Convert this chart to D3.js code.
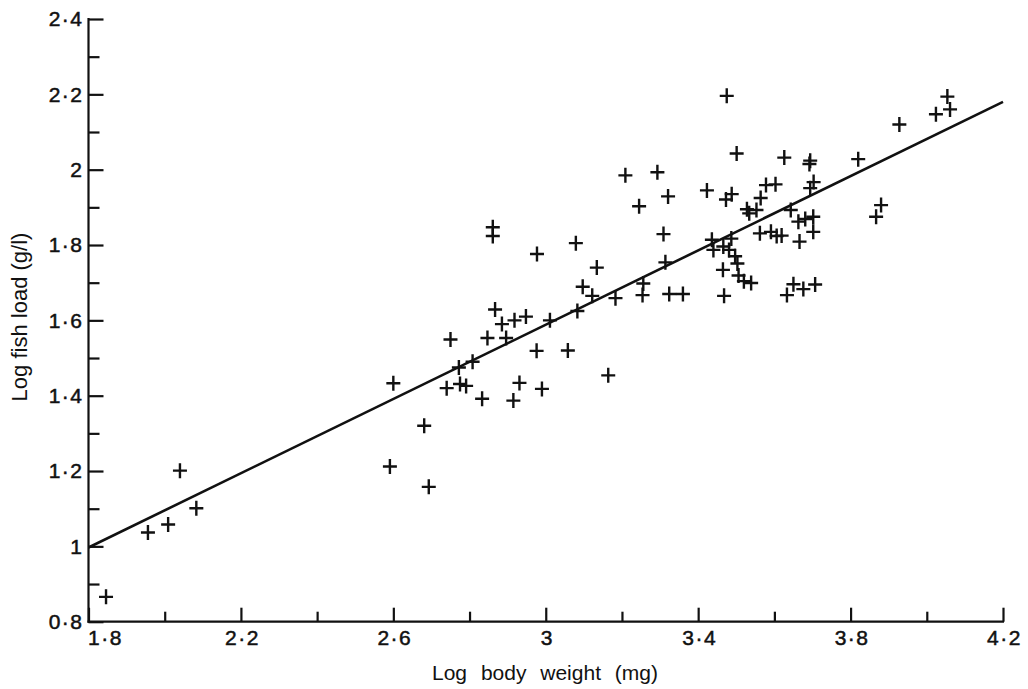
<!DOCTYPE html>
<html>
<head>
<meta charset="utf-8">
<script src="https://cdn.jsdelivr.net/npm/d3@7/dist/d3.min.js"></script>
<style>
  html, body { margin: 0; padding: 0; background: #fff; }
  svg { display: block; }
  text { font-family: "Liberation Sans", Arial, sans-serif; fill: #111; }
</style>
</head>
<body>
<svg id="chart" width="1028" height="689"></svg>
<script>
// ---- data ----
const bodyWeight = [
  1.846, 1.956, 2.009, 2.040, 2.083,
  2.591, 2.600, 2.681, 2.693, 2.740, 2.750, 2.772, 2.775, 2.791, 2.808,
  2.833, 2.847, 2.861, 2.861, 2.867, 2.885, 2.896, 2.918, 2.948, 2.915,
  2.931, 2.977, 2.976, 2.990, 3.011, 3.058, 3.083, 3.079, 3.134, 3.097,
  3.122, 3.164, 3.183, 3.209, 3.245, 3.254, 3.256, 3.293, 3.309, 3.314,
  3.321, 3.324, 3.360,
  3.475, 3.501, 3.626, 3.694, 3.692, 3.820, 3.928, 4.024, 4.054, 4.061,
  3.423, 3.473, 3.488, 3.578, 3.603, 3.564, 3.528, 3.534, 3.553, 3.643,
  3.694, 3.703, 3.663, 3.681, 3.702, 3.702, 3.666, 3.562, 3.591, 3.606,
  3.619, 3.436, 3.440, 3.466, 3.487, 3.481, 3.497, 3.503, 3.465, 3.506,
  3.520, 3.539, 3.468, 3.633, 3.650, 3.676, 3.707, 3.867, 3.880
];
const fishLoad = [
  0.866, 1.037, 1.058, 1.201, 1.101,
  1.212, 1.433, 1.320, 1.158, 1.420, 1.549, 1.475, 1.431, 1.426, 1.490,
  1.392, 1.553, 1.847, 1.824, 1.629, 1.590, 1.553, 1.600, 1.610, 1.387,
  1.434, 1.776, 1.519, 1.418, 1.600, 1.520, 1.625, 1.805, 1.740, 1.689,
  1.665, 1.454, 1.659, 1.985, 1.903, 1.667, 1.698, 1.993, 1.829, 1.754,
  1.929, 1.670, 1.670,
  2.196, 2.043, 2.032, 2.024, 2.015, 2.028, 2.120, 2.147, 2.194, 2.160,
  1.945, 1.921, 1.935, 1.959, 1.961, 1.925, 1.895, 1.884, 1.893, 1.893,
  1.951, 1.967, 1.862, 1.869, 1.875, 1.835, 1.809, 1.831, 1.835, 1.824,
  1.825, 1.814, 1.787, 1.796, 1.817, 1.787, 1.770, 1.751, 1.734, 1.719,
  1.704, 1.699, 1.665, 1.667, 1.696, 1.683, 1.695, 1.875, 1.906
];
const fitX = [1.8, 4.2];
const fitY = [0.997, 2.18];

const xMajorTicks = [1.8, 2.2, 2.6, 3.0, 3.4, 3.8, 4.2];
const xMajorLabels = ["1·8", "2·2", "2·6", "3", "3·4", "3·8", "4·2"];
const xMinorTicks = [2.0, 2.4, 2.8, 3.2, 3.6, 4.0];
const yMajorTicks = [0.8, 1.0, 1.2, 1.4, 1.6, 1.8, 2.0, 2.2, 2.4];
const yMajorLabels = ["0·8", "1", "1·2", "1·4", "1·6", "1·8", "2", "2·2", "2·4"];
const yMinorTicks = [0.9, 1.1, 1.3, 1.5, 1.7, 1.9, 2.1, 2.3];
const xTitle = "Log body weight (mg)";
const yTitle = "Log fish load (g/l)";

// ---- layout ----
const svg = d3.select("#chart");
const x = d3.scaleLinear().domain([1.8, 4.2]).range([88.5, 1003]);
const y = d3.scaleLinear().domain([0.8, 2.4]).range([621.7, 19]);
const ink = "#111";

svg.append("line").attr("x1", x(1.8)).attr("x2", x(1.8))
  .attr("y1", y(2.4) - 1).attr("y2", y(0.8) + 1)
  .attr("stroke", ink).attr("stroke-width", 2.2);
svg.append("line").attr("x1", x(1.8) - 1).attr("x2", x(4.2) + 1)
  .attr("y1", y(0.8)).attr("y2", y(0.8))
  .attr("stroke", ink).attr("stroke-width", 2.2);

function styleAxis(g) {
  g.select(".domain").remove();
  g.selectAll(".tick line").attr("stroke", ink).attr("stroke-width", 2.2);
  g.selectAll(".tick text")
    .style("font-family", '"Liberation Sans", Arial, sans-serif')
    .style("font-size", "21px")
    .style("letter-spacing", "1.5px")
    .attr("fill", ink)
    .attr("stroke", ink).attr("stroke-width", 0.5);
}

const yMajorFmt = d => yMajorLabels[yMajorTicks.indexOf(d)];
svg.append("g").attr("transform", `translate(${x(1.8)},0)`)
  .call(d3.axisLeft(y).tickValues(yMajorTicks).tickFormat(yMajorFmt)
    .tickSizeInner(-15).tickSizeOuter(0).tickPadding(5))
  .call(styleAxis);
svg.append("g").attr("transform", `translate(${x(1.8)},0)`)
  .call(d3.axisLeft(y).tickValues(yMinorTicks).tickFormat("")
    .tickSizeInner(-11).tickSizeOuter(0))
  .call(styleAxis);

const xMajorFmt = d => xMajorLabels[xMajorTicks.indexOf(d)];
const gx = svg.append("g").attr("transform", `translate(0,${y(0.8)})`)
  .call(d3.axisBottom(x).tickValues(xMajorTicks).tickFormat(xMajorFmt)
    .tickSizeInner(-14).tickSizeOuter(0).tickPadding(8))
  .call(styleAxis);
gx.selectAll(".tick").filter(d => d === 1.8).select("text")
  .attr("text-anchor", "start").attr("x", -1);
gx.selectAll(".tick text").filter(d => d !== 1.8).attr("dx", "1px");
svg.append("g").attr("transform", `translate(0,${y(0.8)})`)
  .call(d3.axisBottom(x).tickValues(xMinorTicks).tickFormat("")
    .tickSizeInner(-10).tickSizeOuter(0))
  .call(styleAxis);

svg.append("path")
  .datum(fitX.map((v, i) => [v, fitY[i]]))
  .attr("d", d3.line().x(d => x(d[0])).y(d => y(d[1])))
  .attr("fill", "none").attr("stroke", ink).attr("stroke-width", 2.6);

const pts = bodyWeight.map((v, i) => [v, fishLoad[i]]);
svg.append("g").selectAll("path").data(pts).join("path")
  .attr("d", d => {
    const cx = x(d[0]), cy = y(d[1]);
    return `M${cx - 7},${cy}H${cx + 7}M${cx},${cy - 7.5}V${cy + 7.5}`;
  })
  .attr("stroke", ink).attr("stroke-width", 2.4).attr("fill", "none");

svg.append("text")
  .attr("x", 545).attr("y", 680)
  .attr("text-anchor", "middle")
  .style("font-size", "21px")
  .style("word-spacing", "8px")
  .text(xTitle);
svg.append("text")
  .attr("transform", "translate(27,317) rotate(-90)")
  .attr("text-anchor", "middle")
  .style("font-size", "22px")
  .text(yTitle);
</script>
</body>
</html>
